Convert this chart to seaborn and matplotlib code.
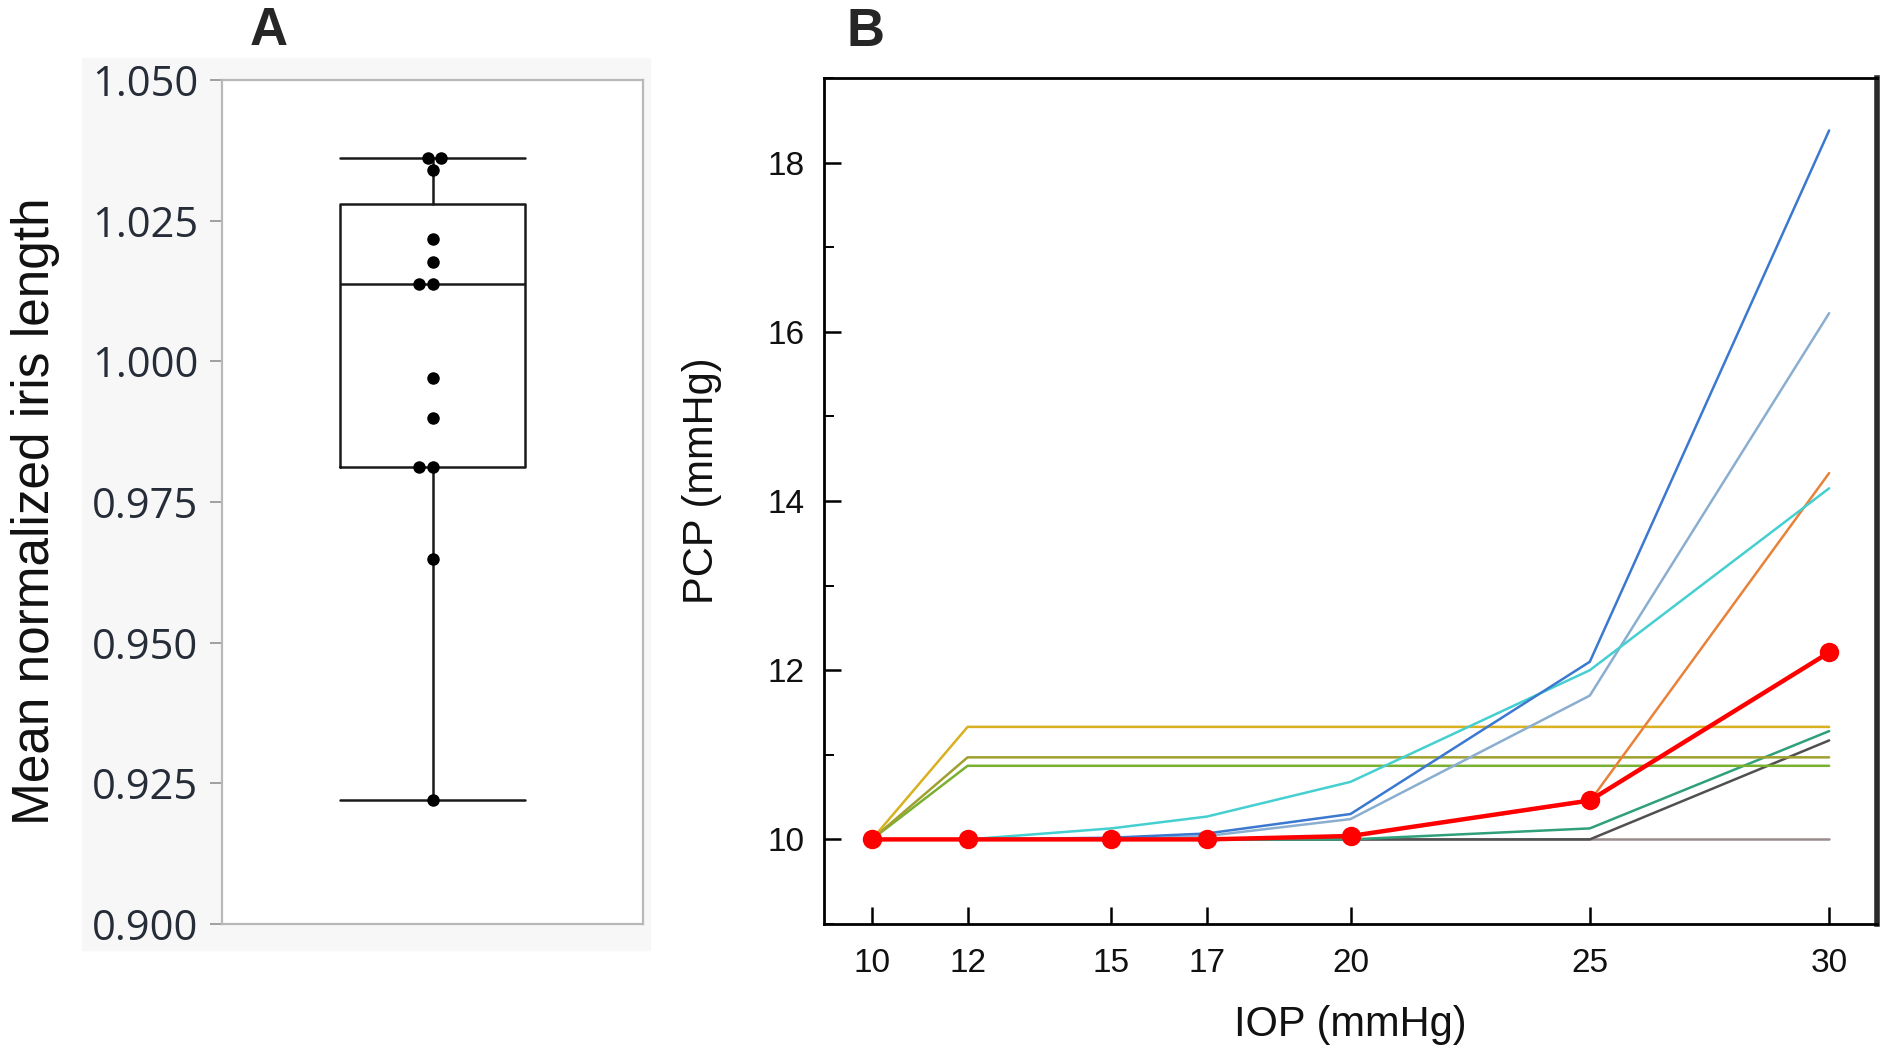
import numpy as np
import pandas as pd
import matplotlib
matplotlib.use("Agg")
import matplotlib.pyplot as plt
from matplotlib.patches import Rectangle
from matplotlib.ticker import MultipleLocator
import seaborn as sns

# ===== DATA: panel A (mean normalized iris length, one value per eye) =====
iris_length = [1.0361, 1.0361, 1.0340, 1.0218, 1.0177, 1.0138, 1.0138,
               0.9970, 0.9900, 0.9813, 0.9813, 0.9648, 0.9220]

# ===== DATA: panel B (PCP vs IOP) =====
iop = [10, 12, 15, 17, 20, 25, 30]
pcp_blue = [10, 10, 10.02, 10.07, 10.30, 12.10, 18.38]
pcp_steel = [10, 10, 10.0, 10.04, 10.24, 11.70, 16.22]
pcp_cyan = [10, 10, 10.13, 10.27, 10.68, 12.00, 14.15]
pcp_orange = [10, 10, 10, 10, 10.04, 10.45, 14.33]
pcp_gold = [10, 11.33, 11.33, 11.33, 11.33, 11.33, 11.33]
pcp_olive = [10, 10.97, 10.97, 10.97, 10.97, 10.97, 10.97]
pcp_green = [10, 10.87, 10.87, 10.87, 10.87, 10.87, 10.87]
pcp_teal = [10, 10, 10, 10, 10, 10.13, 11.28]
pcp_dark = [10, 10, 10, 10, 10, 10, 11.17]
pcp_grey = [10, 10, 10, 10, 10, 10, 10]
pcp_mean = [10, 10, 10, 10, 10.04, 10.46, 12.21]

line_series = {
    "grey": pcp_grey, "dark": pcp_dark, "teal": pcp_teal, "green": pcp_green,
    "olive": pcp_olive, "gold": pcp_gold, "orange": pcp_orange,
    "steel": pcp_steel, "cyan": pcp_cyan, "blue": pcp_blue,
}
line_colors = {
    "grey": "#9a8c8c", "dark": "#505050", "teal": "#30a07a", "green": "#7ab030",
    "olive": "#a0a030", "gold": "#d8b020", "orange": "#e8823a",
    "steel": "#8aaed0", "cyan": "#45cfd0", "blue": "#3b78d0",
}

sns.set_theme(style="white")
plt.rcParams['font.family'] = ['Liberation Sans', 'DejaVu Sans']

fig = plt.figure(figsize=(18.87, 10.56), dpi=100)

# faint grey panel behind A (as in the source export)
bg = Rectangle((82 / 1887, 1 - 950 / 1056), 568 / 1887, 892 / 1056,
               transform=fig.transFigure, color="#f7f7f7", zorder=-5)
fig.add_artist(bg)

axA = fig.add_axes([222 / 1887, 1 - 924 / 1056, 421 / 1887, 844 / 1056])
axB = fig.add_axes([824 / 1887, 1 - 924 / 1056, 1053 / 1887, 846 / 1056])

# ===== PANEL A =====
vals = np.array(iris_length)
q1, med, q3 = np.percentile(vals, [25, 50, 75], method="weibull")
stats = [dict(med=med, q1=q1, q3=q3, whislo=vals.min(), whishi=vals.max(), fliers=[])]
axA.bxp(stats, positions=[0], widths=0.44, capwidths=0.44, showfliers=False,
        boxprops=dict(color="#1a1a1a", linewidth=1.8),
        whiskerprops=dict(color="#1a1a1a", linewidth=1.8),
        capprops=dict(color="#1a1a1a", linewidth=1.8),
        medianprops=dict(color="#1a1a1a", linewidth=1.8))
sns.swarmplot(y=iris_length, ax=axA, color="black", size=9, zorder=3)

axA.set_xlim(-0.5, 0.5)
axA.set_ylim(0.900, 1.050)
axA.set_yticks(np.arange(0.900, 1.0501, 0.025))
axA.set_yticklabels([f"{v:.3f}" for v in np.arange(0.900, 1.0501, 0.025)],
                    family=['Open Sans', 'DejaVu Sans'], fontsize=30, color="#262c38")
axA.set_xticks([])
axA.set_facecolor("white")
for s in axA.spines.values():
    s.set_color("#b8b8b8")
    s.set_linewidth(1.6)
axA.tick_params(axis="y", direction="out", length=9, width=1.4, color="#a0a0a0",
                pad=8, left=True)
axA.set_ylabel("Mean normalized iris length", fontsize=37, color="#111111")
axA.yaxis.set_label_coords(-0.385, 0.489)

# ===== PANEL B =====
rows = []
for name, ys in line_series.items():
    for x, y in zip(iop, ys):
        rows.append({"IOP": x, "PCP": y, "eye": name})
df = pd.DataFrame(rows)
sns.lineplot(data=df, x="IOP", y="PCP", hue="eye", palette=line_colors,
             estimator=None, linewidth=1.8, legend=False, ax=axB)
sns.lineplot(x=iop, y=pcp_mean, color="#ff0000", linewidth=3.2, marker="o",
             markersize=14, markeredgewidth=0, ax=axB, zorder=5)

axB.set_xlim(9, 31)
axB.set_ylim(9, 19)
axB.set_xticks(iop)
axB.set_yticks([10, 12, 14, 16, 18])
axB.yaxis.set_minor_locator(MultipleLocator(1))
axB.tick_params(axis="both", which="major", direction="in", length=12, width=1.8,
                color="black", labelsize=24, labelcolor="#111111")
axB.tick_params(axis="x", pad=17, bottom=True)
axB.tick_params(axis="y", pad=14, left=True)
axB.tick_params(axis="y", which="minor", direction="in", length=7, width=1.4,
                color="black", left=True)
for s in axB.spines.values():
    s.set_color("black")
    s.set_linewidth(2.0)
axB.spines["right"].set_linewidth(4)
axB.spines["right"].set_color("#2a2a2a")
axB.set_xlabel("IOP (mmHg)", fontsize=30, color="#111111")
axB.set_ylabel("PCP (mmHg)", fontsize=30, color="#111111")
axB.xaxis.set_label_coords(0.5, -0.096)
axB.yaxis.set_label_coords(-0.097, 0.524)

# panel letters
fig.text(269 / 1887, 1 - 31 / 1056, "A", fontsize=38, fontweight="bold",
         ha="center", va="center")
fig.text(865 / 1887, 1 - 32 / 1056, "B", fontsize=38, fontweight="bold",
         ha="center", va="center")

fig.savefig("out.png", dpi=100)
